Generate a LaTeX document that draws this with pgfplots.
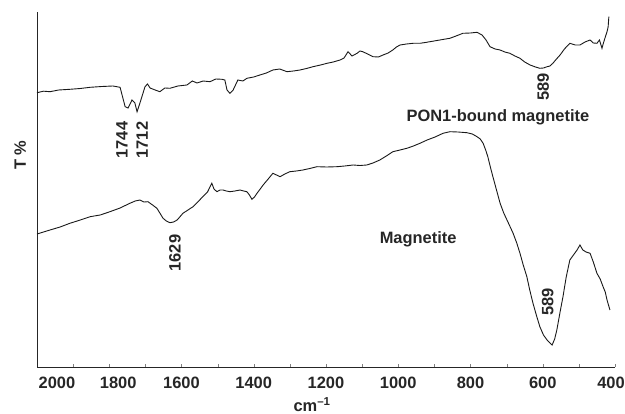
\documentclass[border=0pt]{standalone}
\usepackage{fontspec}
\setmainfont{Liberation Sans}
\usepackage{pgfplots}
\pgfplotsset{compat=1.18}

\newcommand{\lab}{\fontsize{16.5}{19}\selectfont\bfseries}

% FTIR spectra, x = wavenumber (cm^-1), y = transmittance (arbitrary units)
\begin{document}
\begin{tikzpicture}
\useasboundingbox (-37bp,-47bp) rectangle (588bp,367bp);
\begin{axis}[
  scale only axis,
  width=578bp, height=355bp,
  xmin=400, xmax=2000, x dir=reverse,
  ymin=0, ymax=355,
  axis x line*=bottom, axis y line*=left,
  axis line style={-, line width=0.8bp, black!85},
  xtick={400,600,800,1000,1200,1400,1600,1800,2000},
  xticklabels={{400\hspace*{8bp}},600,800,1000,1200,1400,1600,{\hspace*{18bp}1800},{\hspace*{40bp}2000}},
  minor x tick num=1,
  tick align=inside,
  major tick length=3bp, minor tick length=3bp,
  ytick=\empty,
  xticklabel style={font=\lab, text=black!85, yshift=-7bp},
  xlabel={cm\textsuperscript{–1}},
  xlabel style={font=\lab, text=black!85, at={(axis description cs:0.476,-0.075)}, anchor=north},
  ylabel={T \%},
  ylabel style={font=\lab, text=black!85, at={(axis description cs:-0.029,0.597)}, anchor=center},
  clip=false,
]
% PON1-bound magnetite
\addplot[black!90, line width=0.9bp] coordinates {
(2000,274.3)(1982,275.8)(1964,275.3)(1940,277.0)(1909,277.7)(1880,278.5)(1853,279.7)
(1820,280.5)(1790,281)(1770,279.7)(1756,260.3)(1748,259)(1737,267)(1729,264)
(1723,255.3)(1715,264)(1701,280.3)(1694,283)(1687,279)(1673,277)(1660,275.3)
(1646,279)(1632,278.7)(1610,281)(1585,282)(1570,286)(1557,284)(1540,286)
(1521,285.3)(1505,288)(1488,287.7)(1480,287)(1474,277)(1466,273.7)(1457,277)
(1444,287)(1430,286)(1419,288.7)(1400,290)(1383,292)(1365,294)(1347,297)
(1328,298)(1308,295.3)(1290,296)(1272,297)(1254,298.5)(1236,300.3)(1215,302)
(1197,303.7)(1180,305)(1161,307)(1150,309)(1139,315.3)(1128,311)(1114,313.7)
(1106,316)(1098,315.3)(1085,313)(1070,310.3)(1055,310)(1042,312)(1028,314)
(1015,317)(1005,320)(995,322)(977,323)(959,323.7)(940,323.7)(925,324.5)
(912,325.3)(885,327)(857,328.7)(840,331)(821,333.7)(800,334)(782,334.7)
(768,332)(757,327)(746,320.3)(732,318)(718,317)(705,315)(691,313.7)(677,311)
(663,308.7)(650,305)(635,302)(620,300)(608,298.7)(598,299)(588,300.3)(580,301)
(572,303.7)(562,308)(552,312)(540,318)(525,323.7)(510,322)(497,322)(483,325)
(469,327)(460,324)(450,323.7)(443,327)(436,318.7)(432,324)(428,328.7)(422,335.3)
(419,340)(417,350.3)
};
% Magnetite
\addplot[black!90, line width=0.9bp] coordinates {
(2000,133)(1982,135)(1964,137)(1936,140)(1909,143.7)(1880,147)(1853,150.3)
(1825,152)(1798,155.3)(1770,159)(1743,163.7)(1728,166)(1715,167)(1704,165)
(1693,165.3)(1680,162)(1668,158.7)(1660,154)(1651,148.7)(1642,146)(1632,144.3)
(1622,145)(1612,147)(1596,153.7)(1582,157)(1568,160.3)(1555,165)(1541,170.3)
(1528,175)(1516,183.7)(1510,178)(1502,175.3)(1493,177)(1485,177)(1476,176)
(1466,175.3)(1452,176)(1438,177)(1428,176)(1419,175.3)(1412,172)(1405,167.7)
(1398,170)(1391,173.7)(1382,178)(1374,182)(1360,188)(1347,193.7)(1337,192)
(1327,190.3)(1314,193)(1300,195.3)(1282,196)(1264,197)(1245,198.5)(1225,200.3)
(1198,200)(1170,200.3)(1148,201)(1125,202)(1106,201.5)(1087,202)(1070,204)
(1051,207)(1033,211)(1015,215.3)(995,217)(976,218.7)(958,221)(940,223.7)
(920,227)(898,230)(876,233.7)(857,235.3)(835,235)(810,234.3)(795,233)
(782,230.3)(773,228)(765,223.7)(758,217)(752,210.3)(745,200)(738,190.3)
(728,177)(718,163.7)(708,154)(699,147)(690,140)(682,133.7)(672,124)
(663,113.7)(654,102)(644,90.3)(636,77)(627,63.7)(617,51)(608,40.3)(598,32)
(588,27)(580,24)(574,22)(567,28)(561,37)(552,55)(544,70.3)(535,90)
(525,107)(515,112)(505,117)(497,122)(489,117)(480,115)(469,113.7)(460,105)
(450,93.7)(441,88)(433,80.3)(427,75)(422,67)(418,62)(414,57)
};
\node[font=\lab, text=black!85, rotate=90] at (axis cs:1765,227) {1744};
\node[font=\lab, text=black!85, rotate=90] at (axis cs:1709,227) {1712};
\node[font=\lab, text=black!85, rotate=90] at (axis cs:599,280) {589};
\node[font=\lab, text=black!85] at (axis cs:724,250) {PON1-bound magnetite};
\node[font=\lab, text=black!85, rotate=90] at (axis cs:1618,114) {1629};
\node[font=\lab, text=black!85] at (axis cs:945,128) {Magnetite};
\node[font=\lab, text=black!85, rotate=90] at (axis cs:586,65) {589};
\end{axis}
\end{tikzpicture}
\end{document}
